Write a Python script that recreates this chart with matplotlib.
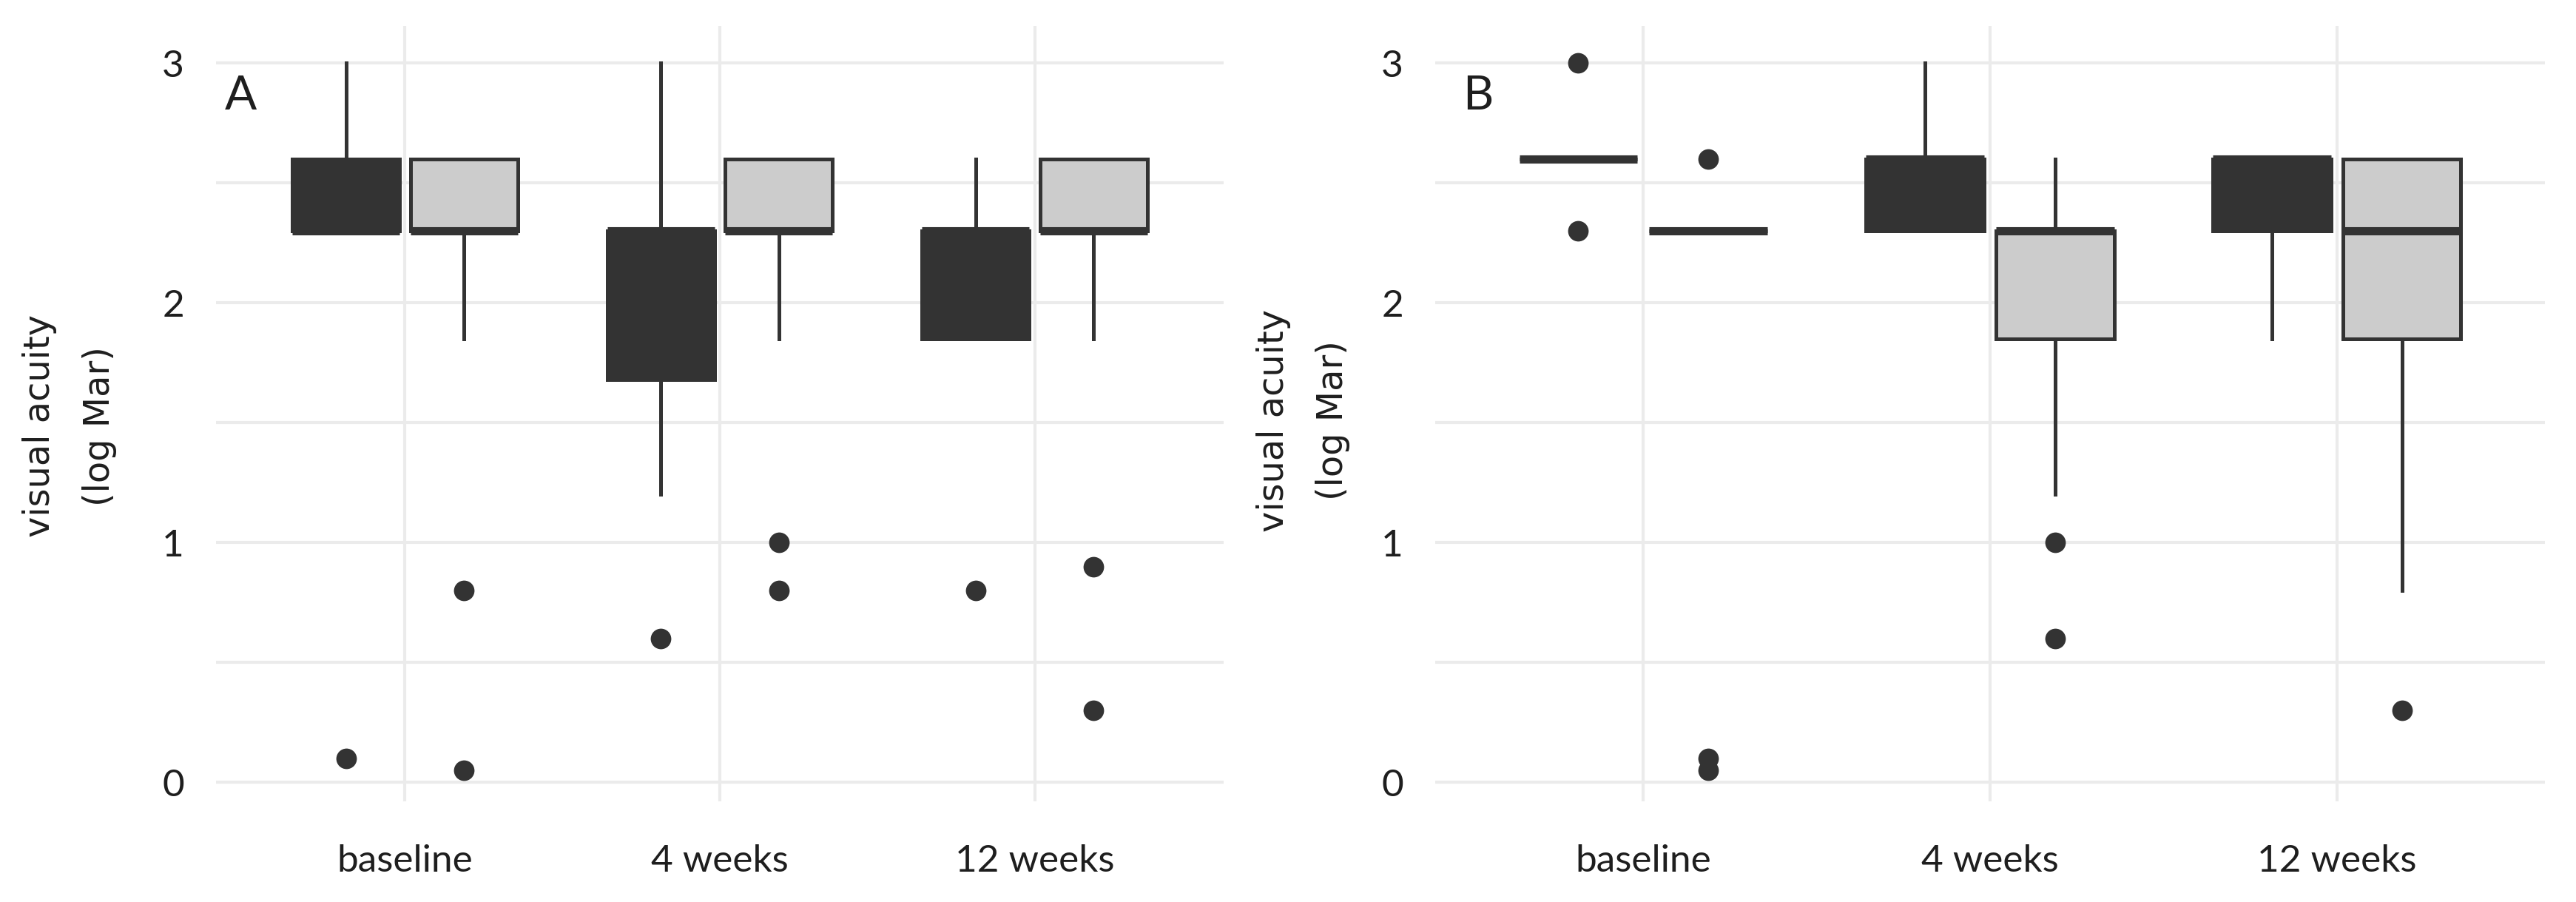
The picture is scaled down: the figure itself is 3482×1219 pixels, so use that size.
import numpy as np
import matplotlib
matplotlib.use("Agg")
from matplotlib import pyplot as plt

# categories (x axis)
cats = ['baseline', '4 weeks', '12 weeks']

# panel A, dark group (box stats per category)
a_dark_q1 = [2.3, 1.68, 1.85]
a_dark_med = [2.3, 2.3, 2.3]
a_dark_q3 = [2.6, 2.3, 2.3]
a_dark_lo = [2.3, 1.2, 1.85]
a_dark_hi = [3.0, 3.0, 2.6]
a_dark_out = [[0.1], [0.6], [0.8]]

# panel A, light group
a_light_q1 = [2.3, 2.3, 2.3]
a_light_med = [2.3, 2.3, 2.3]
a_light_q3 = [2.6, 2.6, 2.6]
a_light_lo = [1.85, 1.85, 1.85]
a_light_hi = [2.6, 2.6, 2.6]
a_light_out = [[0.8, 0.05], [1.0, 0.8], [0.9, 0.3]]

# panel B, dark group
b_dark_q1 = [2.6, 2.3, 2.3]
b_dark_med = [2.6, 2.6, 2.6]
b_dark_q3 = [2.6, 2.6, 2.6]
b_dark_lo = [2.6, 2.3, 1.85]
b_dark_hi = [2.6, 3.0, 2.6]
b_dark_out = [[3.0, 2.3], [], []]

# panel B, light group
b_light_q1 = [2.3, 1.85, 1.85]
b_light_med = [2.3, 2.3, 2.3]
b_light_q3 = [2.3, 2.3, 2.6]
b_light_lo = [2.3, 1.2, 0.8]
b_light_hi = [2.3, 2.6, 2.6]
b_light_out = [[2.6, 0.1, 0.05], [1.0, 0.6], [0.3]]

yticks = [0, 1, 2, 3]
ylab = 'visual acuity\n(log Mar)'

DARK = '#333333'
LIGHT = '#cccccc'
GRID = '#ebebeb'
TXT = '#1e1e1e'


def stats(q1, med, q3, lo, hi, out):
    res = []
    for i in range(len(q1)):
        res.append(dict(q1=q1[i], med=med[i], q3=q3[i], whislo=lo[i],
                        whishi=hi[i], fliers=out[i]))
    return res


def draw_group(ax, st, pos, fill):
    ax.bxp(st, positions=pos, widths=0.34, showcaps=False, patch_artist=True,
           boxprops=dict(facecolor=fill, edgecolor=DARK, linewidth=3.6),
           medianprops=dict(color=DARK, linewidth=8, solid_capstyle='butt'),
           whiskerprops=dict(color=DARK, linewidth=3.6),
           flierprops=dict(marker='o', markerfacecolor=DARK, markeredgecolor='none',
                           markersize=20),
           zorder=3)


fig = plt.figure(figsize=(34.82, 12.19), dpi=100)
ax_a = fig.add_axes([292 / 3482, 1 - 1083 / 1219, 1362 / 3482, 1048 / 1219])
ax_b = fig.add_axes([1940 / 3482, 1 - 1083 / 1219, 1500 / 3482, 1048 / 1219])

# axes, letter, dark stats, light stats, letter x, ylabel x, ylabel y
panels = [
    (ax_a, 'A', stats(a_dark_q1, a_dark_med, a_dark_q3, a_dark_lo, a_dark_hi, a_dark_out),
     stats(a_light_q1, a_light_med, a_light_q3, a_light_lo, a_light_hi, a_light_out),
     0.009, -0.1454, 0.484),
    (ax_b, 'B', stats(b_dark_q1, b_dark_med, b_dark_q3, b_dark_lo, b_dark_hi, b_dark_out),
     stats(b_light_q1, b_light_med, b_light_q3, b_light_lo, b_light_hi, b_light_out),
     0.025, -0.119, 0.491),
]

x = np.arange(1, len(cats) + 1)
for ax, letter, dark, light, lx, ylx, yly in panels:
    draw_group(ax, dark, x - 0.1875, DARK)
    draw_group(ax, light, x + 0.1875, LIGHT)
    ax.set_xlim(0.4, 3.6)
    ax.set_ylim(-0.08, 3.155)
    ax.set_xticks(x)
    ax.set_xticklabels(cats)
    ax.set_yticks(yticks)
    ax.set_yticklabels([str(t) for t in yticks])
    ax.set_yticks([0.5, 1.5, 2.5], minor=True)
    ax.grid(True, which='major', color=GRID, linewidth=3, zorder=0)
    ax.grid(True, which='minor', axis='y', color=GRID, linewidth=3, zorder=0)
    ax.set_axisbelow(True)
    for s in ax.spines.values():
        s.set_visible(False)
    ax.tick_params(axis='both', which='both', length=0, colors=TXT)
    ax.tick_params(axis='x', pad=42)
    ax.tick_params(axis='y', pad=31)
    for lab in ax.get_xticklabels() + ax.get_yticklabels():
        lab.set_fontfamily('Lato')
        lab.set_fontsize(37)
    ax.text(lx, 0.909, letter, transform=ax.transAxes, fontsize=46, family='Lato',
            color=TXT, ha='left', va='center')
    ax.text(ylx, yly, ylab, transform=ax.transAxes, rotation=90, fontsize=34.5,
            family='DejaVu Sans', color=TXT, ha='center', va='center',
            multialignment='center', linespacing=1.9)

fig.savefig('out.png', dpi=100, facecolor='white')
